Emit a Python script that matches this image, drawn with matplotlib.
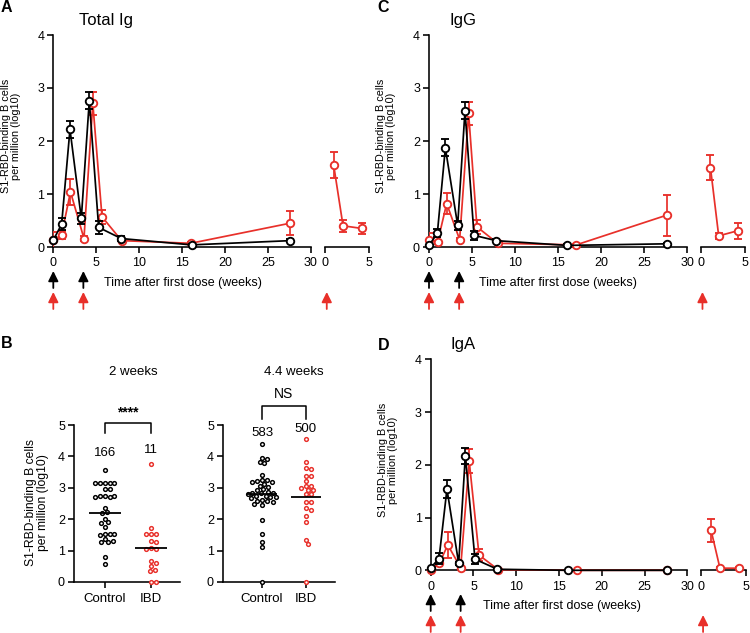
import numpy as np
import matplotlib
matplotlib.use("Agg")
import matplotlib.pyplot as plt
from matplotlib.ticker import FixedLocator

plt.rcParams['font.family'] = ['Liberation Sans', 'DejaVu Sans']

# ---------------- data ----------------
# Panel A: Total Ig
A_ctrl_x = [0, 0.97, 1.94, 3.26, 4.19, 5.28, 7.9, 16.1, 27.6]
A_ctrl_y = [0.13, 0.43, 2.22, 0.54, 2.76, 0.37, 0.16, 0.04, 0.12]
A_ctrl_e = [0.05, 0.11, 0.16, 0.10, 0.16, 0.13, 0.04, 0.02, 0.03]
A_ibd_x = [0, 0.97, 2.0, 3.57, 4.6, 5.67, 7.95, 16.0, 27.6]
A_ibd_y = [0.13, 0.23, 1.04, 0.16, 2.71, 0.57, 0.12, 0.07, 0.45]
A_ibd_e = [0.16, 0.08, 0.24, 0.05, 0.22, 0.13, 0.03, 0.02, 0.23]
A_ibd3_x = [0.98, 2.05, 4.2]
A_ibd3_y = [1.55, 0.40, 0.35]
A_ibd3_e = [0.25, 0.11, 0.11]

# Panel C: IgG
C_ctrl_x = [0, 0.97, 1.9, 3.33, 4.18, 5.23, 7.8, 16.07, 27.6]
C_ctrl_y = [0.03, 0.26, 1.87, 0.41, 2.57, 0.22, 0.12, 0.03, 0.06]
C_ctrl_e = [0.02, 0.08, 0.16, 0.08, 0.16, 0.09, 0.03, 0.02, 0.02]
C_ibd_x = [0, 1.0, 2.05, 3.56, 4.6, 5.57, 7.97, 17.1, 27.6]
C_ibd_y = [0.14, 0.09, 0.82, 0.14, 2.52, 0.38, 0.07, 0.04, 0.60]
C_ibd_e = [0.13, 0.03, 0.19, 0.03, 0.22, 0.13, 0.02, 0.02, 0.39]
C_ibd3_x = [1.1, 2.03, 4.25]
C_ibd3_y = [1.50, 0.21, 0.31]
C_ibd3_e = [0.23, 0.06, 0.15]

# Panel D: IgA
D_ctrl_x = [0, 0.97, 1.9, 3.27, 4.05, 5.18, 7.8, 16.0, 27.6]
D_ctrl_y = [0.05, 0.22, 1.54, 0.13, 2.17, 0.21, 0.02, 0.0, 0.0]
D_ctrl_e = [0.02, 0.10, 0.17, 0.03, 0.15, 0.10, 0.01, 0.0, 0.0]
D_ibd_x = [0, 1.0, 2.0, 3.5, 4.5, 5.65, 7.9, 17.1, 27.6]
D_ibd_y = [0.0, 0.13, 0.48, 0.05, 2.07, 0.29, 0.01, 0.0, 0.0]
D_ibd_e = [0.0, 0.05, 0.25, 0.02, 0.23, 0.12, 0.01, 0.0, 0.0]
D_ibd3_x = [1.1, 2.1, 4.25]
D_ibd3_y = [0.76, 0.04, 0.04]
D_ibd3_e = [0.22, 0.02, 0.02]

DOSE_WEEKS = [0, 3.5]
THIRD_DOSE_WEEKS = [0.2]

# Panel B
B_groups = ["Control", "IBD"]
B2_ctrl = [3.58, 3.16, 3.16, 3.15, 3.14, 3.16, 2.95, 2.97, 2.73, 2.72, 2.74, 2.73,
           2.71, 2.35, 2.22, 2.20, 2.00, 1.90, 1.88, 1.75, 1.53, 1.52, 1.50, 1.52,
           1.38, 1.28, 1.27, 1.30, 0.81, 0.58]
B2_ibd = [3.77, 1.73, 1.52, 1.52, 1.52, 1.30, 1.28, 1.07, 1.05, 1.05, 0.68, 0.60,
          0.50, 0.38, 0.35, 0.0, 0.0]
B44_ctrl = [4.38, 3.95, 3.93, 3.82, 3.80, 3.42, 3.26, 3.25, 3.22, 3.18, 3.17, 3.12,
            3.05, 3.02, 2.95, 2.92, 2.86, 2.85, 2.84, 2.82, 2.80, 2.74, 2.73, 2.72,
            2.70, 2.68, 2.60, 2.58, 2.57, 2.56, 2.47, 2.45, 1.96, 1.52, 1.28, 1.12, 0.0]
B44_ibd = [4.55, 3.82, 3.62, 3.59, 3.38, 3.38, 3.22, 3.06, 3.06, 2.98, 2.93, 2.93,
           2.79, 2.79, 2.55, 2.55, 2.37, 2.28, 2.10, 1.90, 1.35, 1.22, 0.0]
B2_counts = ["166", "11"]
B44_counts = ["583", "500"]
B2_sig = "****"
B44_sig = "NS"

RED = '#E8302A'
BLACK = '#000000'
W, H = 750, 633

fig = plt.figure(figsize=(7.5, 6.33), dpi=100)


def add_ax(l, t, r, b):
    return fig.add_axes([l / W, 1 - b / H, (r - l) / W, (b - t) / H])


def base_style(ax, left=True):
    for s in ['top', 'right']:
        ax.spines[s].set_visible(False)
    for s in ['left', 'bottom']:
        ax.spines[s].set_linewidth(1.15)
    ax.tick_params(length=4, width=1.15, labelsize=9, pad=2.5, color='black')
    if not left:
        ax.spines['left'].set_visible(False)
        ax.tick_params(axis='y', left=False, labelleft=False)
    ax.patch.set_alpha(0)


def series(ax, x, y, e, color, z):
    c = ax.errorbar(x, y, yerr=e, color=color, lw=1.25, elinewidth=1.25, capsize=3,
                    capthick=1.25, marker='o', ms=5.4, mfc='white', mec=color,
                    mew=1.35, zorder=z)
    c[0].set_clip_on(False)
    return c


def fpx(x, y):
    # image pixel (from top-left) -> figure fraction
    return (x / W, 1 - y / H)


def time_panel(box_main, box_sub, ctrl, ibd, ibd3, title, title_xy, letter, letter_xy,
               ylab_xy, xlab_xy, black_arrow_y, red_arrow_y):
    ax = add_ax(*box_main)
    ax2 = add_ax(*box_sub)
    base_style(ax)
    base_style(ax2, left=False)
    for a, xl in ((ax, (0, 30)), (ax2, (0, 5))):
        a.set_ylim(0, 4)
        a.set_xlim(*xl)
    ax.set_yticks([0, 1, 2, 3, 4])
    ax.set_xticks([0, 5, 10, 15, 20, 25, 30])
    ax2.set_xticks([0, 5])
    ax.xaxis.set_minor_locator(FixedLocator([30]))
    ax2.xaxis.set_minor_locator(FixedLocator([0, 5]))
    for a in (ax, ax2):
        a.tick_params(axis='x', which='minor', direction='inout', length=7, width=1.15)
        a.tick_params(axis='x', which='major', pad=3.5)
    ax.tick_params(axis='y', pad=2.5)

    series(ax, *ibd, RED, 3)
    series(ax, *ctrl, BLACK, 4)
    series(ax2, *ibd3, RED, 3)

    fig.text(*fpx(*title_xy), title, fontsize=12, ha='center', va='center')
    fig.text(*fpx(*letter_xy), letter, fontsize=11.5, fontweight='bold', ha='left', va='center')
    fig.text(*fpx(*ylab_xy), "S1-RBD-binding B cells\nper million (log10)", fontsize=7.8,
             rotation=90, ha='center', va='center', multialignment='center', linespacing=1.05)
    fig.text(*fpx(*xlab_xy), "Time after first dose (weeks)", fontsize=9, ha='center', va='center')

    ap = dict(arrowstyle='-|>,head_length=0.6,head_width=0.3', lw=1.3, shrinkA=0, shrinkB=0)
    for xw in DOSE_WEEKS:
        ax.annotate('', xy=(xw, H - black_arrow_y[0]), xytext=(xw, H - black_arrow_y[1]),
                    xycoords=('data', 'figure pixels'), textcoords=('data', 'figure pixels'),
                    arrowprops=dict(ap, color=BLACK), annotation_clip=False)
        ax.annotate('', xy=(xw, H - red_arrow_y[0]), xytext=(xw, H - red_arrow_y[1]),
                    xycoords=('data', 'figure pixels'), textcoords=('data', 'figure pixels'),
                    arrowprops=dict(ap, color=RED), annotation_clip=False)
    for xw in THIRD_DOSE_WEEKS:
        ax2.annotate('', xy=(xw, H - red_arrow_y[0]), xytext=(xw, H - red_arrow_y[1]),
                     xycoords=('data', 'figure pixels'), textcoords=('data', 'figure pixels'),
                     arrowprops=dict(ap, color=RED), annotation_clip=False)
    return ax, ax2


time_panel((53.3, 35, 311, 247), (325, 35, 369, 247),
           (A_ctrl_x, A_ctrl_y, A_ctrl_e), (A_ibd_x, A_ibd_y, A_ibd_e),
           (A_ibd3_x, A_ibd3_y, A_ibd3_e),
           "Total Ig", (106.5, 20), "A", (0.5, 8), (11, 136), (182.5, 283),
           (271, 288), (292, 309))

time_panel((429, 35, 687.3, 247), (700.7, 35, 745, 247),
           (C_ctrl_x, C_ctrl_y, C_ctrl_e), (C_ibd_x, C_ibd_y, C_ibd_e),
           (C_ibd3_x, C_ibd3_y, C_ibd3_e),
           "IgG", (463, 20), "C", (377.5, 8), (386, 136), (557.5, 283),
           (271, 288), (292, 309))

time_panel((430.7, 359.3, 687.3, 570.3), (701.3, 359.3, 745.7, 570.3),
           (D_ctrl_x, D_ctrl_y, D_ctrl_e), (D_ibd_x, D_ibd_y, D_ibd_e),
           (D_ibd3_x, D_ibd3_y, D_ibd3_e),
           "IgA", (463, 345), "D", (377.5, 345), (388, 460), (561.5, 606.5),
           (594, 611), (615, 632))


# ---------------- Panel B ----------------
def swarm_offsets(vals, d_px, sx, sy):
    placed = []
    offs = []
    step = d_px / 4.0
    cands = [0.0]
    for k in range(1, 80):
        cands += [k * step, -k * step]
    for v in vals:
        yp = v * sy
        for c in cands:
            if all((c - px) ** 2 + (yp - py) ** 2 >= (d_px * 0.98) ** 2 for px, py in placed):
                placed.append((c, yp))
                offs.append(c / sx)
                break
    return np.array(offs)


def scatter_panel(box, xlim, ctrl, ibd, counts, count_y, sig, sig_y, bracket, title, title_xy):
    ax = add_ax(*box)
    base_style(ax)
    ax.set_xlim(*xlim)
    ax.set_ylim(0, 5)
    ax.set_yticks([0, 1, 2, 3, 4, 5])
    ax.set_xticks([0, 1])
    ax.set_xticklabels(B_groups, fontsize=9.5)
    ax.tick_params(axis='x', pad=4)
    sx = (box[2] - box[0]) / (xlim[1] - xlim[0])
    sy = (box[3] - box[1]) / 5.0
    for i, (vals, col) in enumerate(((ctrl, BLACK), (ibd, RED))):
        offs = swarm_offsets(vals, 4.8, sx, sy)
        ax.plot(i + offs, vals, 'o', ms=2.7, mfc='white', mec=col, mew=1.05,
                ls='none', clip_on=False, zorder=3)
        m = np.mean(vals)
        ax.plot([i - 0.34, i + 0.34], [m, m], color='black', lw=1.3, zorder=4,
                solid_capstyle='butt')
        ax.text(i, count_y[i], counts[i], fontsize=9.5, ha='center', va='center')
    top, leg = bracket
    ax.plot([0, 0, 1, 1], [leg, top, top, leg], color='black', lw=1.1, clip_on=False)
    ax.text(0.5, sig_y, sig, fontsize=10, ha='center', va='center',
            fontweight='bold' if sig.startswith('*') else 'normal')
    fig.text(*fpx(*title_xy), title, fontsize=9.5, ha='center', va='center')
    return ax


scatter_panel((74, 425, 180, 582), (-0.67, 1.63), B2_ctrl, B2_ibd, B2_counts, (4.1, 4.2),
              B2_sig, 5.4, (5.05, 4.73), "2 weeks", (133, 372))
scatter_panel((223, 425, 335, 582), (-0.886, 1.66), B44_ctrl, B44_ibd, B44_counts, (4.73, 4.88),
              B44_sig, 6.0, (5.6, 5.2), "4.4 weeks", (294, 372))

fig.text(*fpx(0.5, 344), "B", fontsize=11.5, fontweight='bold', ha='left', va='center')
fig.text(*fpx(37, 503), "S1-RBD-binding B cells\nper million (log10)", fontsize=8.7,
         rotation=90, ha='center', va='center', multialignment='center', linespacing=1.05)

fig.savefig("out.png", dpi=100)
